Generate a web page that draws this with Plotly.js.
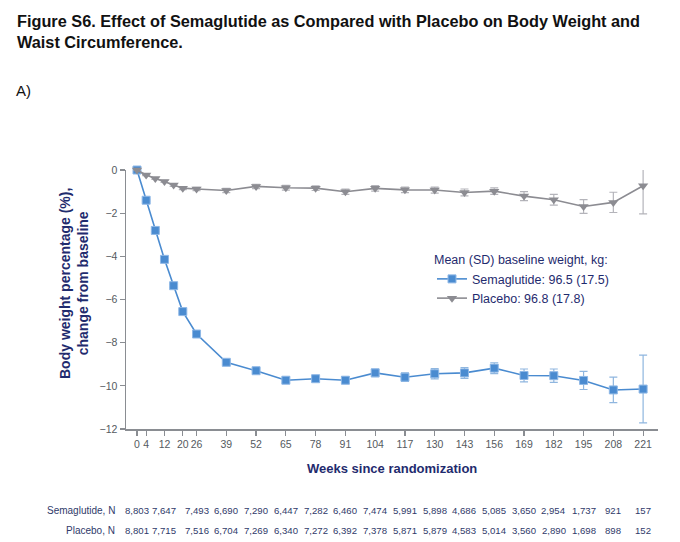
<!DOCTYPE html>
<html>
<head>
<meta charset="utf-8">
<script src="https://cdn.plot.ly/plotly-3.0.1.min.js"></script>
<style>
  html, body { margin: 0; padding: 0; background: #ffffff; }
  #chart { width: 680px; height: 542px; }
</style>
</head>
<body>
<div id="chart"></div>
<script>
// ---- Data ----
const weeks = [0, 4, 8, 12, 16, 20, 26, 39, 52, 65, 78, 91, 104, 117, 130, 143, 156, 169, 182, 195, 208, 221];
const semaMean = [0, -1.40, -2.80, -4.14, -5.36, -6.56, -7.60, -8.91, -9.30, -9.74, -9.67, -9.74, -9.40, -9.60, -9.44, -9.40, -9.18, -9.52, -9.53, -9.75, -10.19, -10.15];
const semaErr = [0, 0.04, 0.05, 0.06, 0.07, 0.08, 0.09, 0.10, 0.11, 0.13, 0.14, 0.16, 0.18, 0.20, 0.24, 0.25, 0.25, 0.30, 0.31, 0.42, 0.59, 1.57];
const placeboMean = [0, -0.23, -0.39, -0.53, -0.70, -0.84, -0.88, -0.95, -0.76, -0.82, -0.84, -1.01, -0.85, -0.92, -0.93, -1.04, -0.98, -1.21, -1.38, -1.69, -1.50, -0.73];
const placeboErr = [0, 0.03, 0.04, 0.05, 0.06, 0.07, 0.08, 0.10, 0.10, 0.11, 0.11, 0.12, 0.13, 0.13, 0.14, 0.16, 0.15, 0.21, 0.25, 0.32, 0.47, 1.30];
const tickWeeks = [0, 4, 12, 20, 26, 39, 52, 65, 78, 91, 104, 117, 130, 143, 156, 169, 182, 195, 208, 221];
const nWeeks = [0, 12, 26, 39, 52, 65, 78, 91, 104, 117, 130, 143, 156, 169, 182, 195, 208, 221];
const semaN = ["8,803", "7,647", "7,493", "6,690", "7,290", "6,447", "7,282", "6,460", "7,474", "5,991", "5,898", "4,686", "5,085", "3,650", "2,954", "1,737", "921", "157"];
const placeboN = ["8,801", "7,715", "7,516", "6,704", "7,269", "6,340", "7,272", "6,392", "7,378", "5,871", "5,879", "4,583", "5,014", "3,560", "2,890", "1,698", "898", "152"];
const seriesNames = ["Semaglutide: 96.5 (17.5)", "Placebo: 96.8 (17.8)"];
const rowLabels = ["Semaglutide, N", "Placebo, N"];

// ---- Styling ----
const SANS = '"Liberation Sans", Arial, Helvetica, sans-serif';
const NAVY = '#1f2b6e';
const TICKGREY = '#555a60';
const AXISGREY = '#8a8d92';
const BLUE = '#4a8bd0';
const GREY = '#8c8c92';

const W = 680, H = 542;
const M = {l: 126, r: 22, t: 170, b: 113};
const plotH = H - M.t - M.b;
const plotW = W - M.l - M.r;
function py(pix) { return (H - M.b - pix) / plotH; }   // pixel row -> paper y
function px(pix) { return (pix - M.l) / plotW; }       // pixel col -> paper x

const traces = [
  {
    x: weeks, y: semaMean, name: seriesNames[0], type: 'scatter', mode: 'lines+markers',
    line: {color: BLUE, width: 1.6},
    marker: {symbol: 'square', size: 8, color: BLUE, line: {color: '#8fb8e6', width: 1}},
    error_y: {type: 'data', array: semaErr, visible: true, color: '#8fb6df', thickness: 1.2, width: 4},
    cliponaxis: false
  },
  {
    x: weeks, y: placeboMean, name: seriesNames[1], type: 'scatter', mode: 'lines+markers',
    line: {color: GREY, width: 1.6},
    marker: {symbol: 'triangle-down', size: 9, color: GREY},
    error_y: {type: 'data', array: placeboErr, visible: true, color: '#b4b4ba', thickness: 1.2, width: 4},
    cliponaxis: false
  }
];

const annotations = [];
// Header
annotations.push({
  xref: 'paper', yref: 'paper', x: px(15), y: py(10), xanchor: 'left', yanchor: 'top', align: 'left',
  text: '<b>Figure S6. Effect of Semaglutide as Compared with Placebo on Body Weight and<br>Waist Circumference.</b>',
  showarrow: false, font: {family: SANS, size: 16.3, color: '#111111'}
});
annotations.push({
  xref: 'paper', yref: 'paper', x: px(14), y: py(91), xanchor: 'left', yanchor: 'middle',
  text: 'A)', showarrow: false, font: {family: SANS, size: 15, color: '#111111'}
});
// Y axis title
annotations.push({
  xref: 'paper', yref: 'paper', x: px(74), y: py(284), xanchor: 'center', yanchor: 'middle',
  textangle: -90, text: '<b>Body weight percentage (%),<br>change from baseline</b>',
  showarrow: false, font: {family: SANS, size: 14, color: NAVY}
});
// X axis title
annotations.push({
  xref: 'paper', yref: 'paper', x: px(392), y: py(468), xanchor: 'center', yanchor: 'middle',
  text: '<b>Weeks since randomization</b>',
  showarrow: false, font: {family: SANS, size: 13, color: NAVY}
});
// N table
const rowYs = [510, 530];
[semaN, placeboN].forEach(function (vals, r) {
  annotations.push({
    xref: 'paper', yref: 'paper', x: px(117), y: py(rowYs[r]), xanchor: 'right', yanchor: 'middle',
    text: rowLabels[r], showarrow: false, font: {family: SANS, size: 10, color: '#2f3a6a'}
  });
  vals.forEach(function (v, i) {
    annotations.push({
      xref: 'x', yref: 'paper', x: nWeeks[i], y: py(rowYs[r]), xanchor: 'center', yanchor: 'middle',
      text: v, showarrow: false, font: {family: SANS, size: 9.6, color: '#2f3a6a'}
    });
  });
});

const layout = {
  width: W, height: H,
  margin: M,
  paper_bgcolor: '#ffffff', plot_bgcolor: '#ffffff',
  showlegend: true,
  legend: {
    x: px(432), y: py(248), xanchor: 'left', yanchor: 'top',
    bgcolor: 'rgba(0,0,0,0)',
    title: {text: 'Mean (SD) baseline weight, kg:', font: {family: SANS, size: 12.5, color: NAVY}},
    font: {family: SANS, size: 12.5, color: NAVY},
    tracegroupgap: 0, itemwidth: 30
  },
  xaxis: {
    range: [-4.8, 227.5], tickmode: 'array', tickvals: tickWeeks, ticktext: tickWeeks.map(String),
    tickangle: 0,
    showline: true, linecolor: AXISGREY, linewidth: 1.5, showgrid: false, zeroline: false,
    ticks: 'outside', ticklen: 5, tickcolor: AXISGREY, tickwidth: 1.2,
    tickfont: {family: SANS, size: 10.5, color: TICKGREY}
  },
  yaxis: {
    range: [-12, 0], dtick: 2, tick0: 0,
    showline: true, linecolor: AXISGREY, linewidth: 1.5, showgrid: false, zeroline: false,
    ticks: 'outside', ticklen: 5, tickcolor: AXISGREY, tickwidth: 1.2,
    tickfont: {family: SANS, size: 10.5, color: TICKGREY}
  },
  annotations: annotations
};

Plotly.newPlot('chart', traces, layout, {displayModeBar: false, staticPlot: true});
</script>
</body>
</html>
